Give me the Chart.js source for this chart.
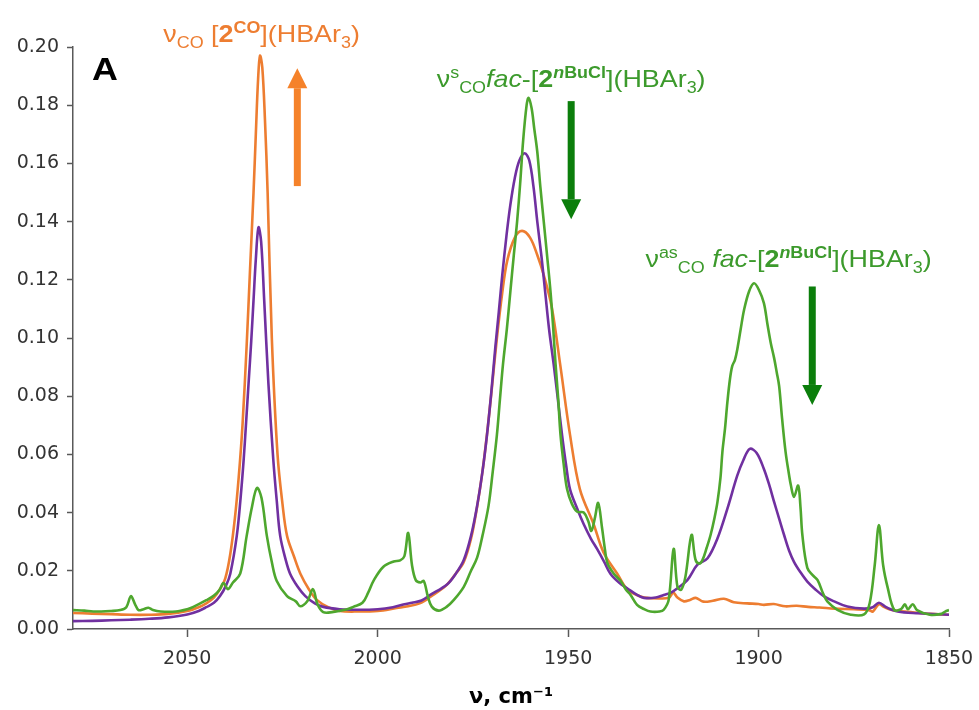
<!DOCTYPE html>
<html>
<head>
<meta charset="utf-8">
<script src="https://cdn.jsdelivr.net/npm/chart.js@4.4.0/dist/chart.umd.min.js"></script>
<style>
  body { margin: 0; background: #fff; }
</style>
</head>
<body>
<canvas id="myChart" width="979" height="710"></canvas>
<script>
// wavenumbers (cm-1) and absorbance
const waveCO = [2080, 2075, 2070, 2065, 2060, 2055, 2050, 2047, 2045, 2043, 2041.5, 2040, 2038.7, 2037.5, 2036.5, 2035.5, 2034.4, 2033.5, 2032.6, 2032, 2031.4, 2030.9, 2030.3, 2029.6, 2028.9, 2027.8, 2026.3, 2025, 2023.8, 2022, 2020.3, 2018, 2016, 2013, 2010, 2005, 2000, 1995, 1992, 1989, 1986, 1982, 1979.5, 1977.4, 1975.5, 1973.9, 1972.5, 1971.3, 1970, 1968.7, 1967.3, 1966, 1964, 1962.1, 1960, 1958.1, 1956.4, 1954.3, 1952.1, 1949.5, 1946.9, 1943.3, 1940.7, 1937.1, 1934.5, 1932.5, 1930, 1926, 1923.5, 1922.4, 1921.3, 1919.6, 1918, 1916.5, 1914.5, 1912, 1909.1, 1906.5, 1903, 1900, 1898.6, 1896, 1893, 1890, 1887, 1884, 1880, 1875, 1871, 1870, 1868.4, 1867, 1865, 1860, 1855, 1850]
const absCO = [0.0055, 0.0053, 0.0051, 0.0049, 0.0049, 0.0052, 0.0062, 0.0075, 0.0088, 0.0108, 0.0135, 0.0175, 0.0258, 0.038, 0.052, 0.070, 0.0976, 0.124, 0.150, 0.170, 0.189, 0.197, 0.193, 0.175, 0.150, 0.100, 0.060, 0.043, 0.032, 0.025, 0.019, 0.0135, 0.010, 0.0075, 0.0062, 0.006, 0.0062, 0.0072, 0.0078, 0.0088, 0.0112, 0.015, 0.019, 0.023, 0.031, 0.042, 0.054, 0.067, 0.083, 0.100, 0.1155, 0.1265, 0.1345, 0.1368, 0.1345, 0.1285, 0.1216, 0.1106, 0.091, 0.0667, 0.048, 0.036, 0.0263, 0.019, 0.0135, 0.012, 0.0108, 0.0105, 0.0108, 0.0125, 0.0108, 0.0095, 0.010, 0.0107, 0.0094, 0.0097, 0.0104, 0.0092, 0.0088, 0.0086, 0.0083, 0.0086, 0.0078, 0.0080, 0.0076, 0.0074, 0.0070, 0.0068, 0.0065, 0.006, 0.0085, 0.0075, 0.0065, 0.0058, 0.0052, 0.0049]

const waveMix = [2080, 2075, 2070, 2065, 2060, 2055, 2050, 2047, 2045, 2043, 2041.4, 2039.8, 2038.7, 2037, 2036, 2035.2, 2034.6, 2033.9, 2033.2, 2032.6, 2032, 2031.3, 2030.6, 2029.8, 2028.7, 2027.4, 2026.5, 2025.6, 2024.2, 2023, 2021, 2019, 2016.5, 2014.3, 2010, 2005, 2000, 1996, 1993, 1991, 1988.5, 1986.2, 1981.8, 1979.5, 1977.4, 1975.5, 1973.9, 1972.5, 1971.3, 1970.2, 1969.1, 1968.2, 1967.3, 1966.2, 1965.2, 1964, 1962.8, 1961.4, 1960.2, 1959.1, 1958.1, 1957, 1956, 1955, 1953.8, 1952.7, 1951.6, 1950.5, 1949.5, 1947.5, 1945.9, 1944, 1942.4, 1940.5, 1938.9, 1936.5, 1934.5, 1932, 1930.1, 1927, 1924.9, 1923, 1921.3, 1918.7, 1916.1, 1913.4, 1910.8, 1908.2, 1905.6, 1904, 1902.3, 1900.5, 1898.6, 1897.2, 1895.9, 1894.5, 1893.3, 1892, 1890.7, 1889, 1887.2, 1885, 1882.8, 1880, 1876.7, 1872.3, 1870, 1868.4, 1866.5, 1863.5, 1858, 1850]
const absMix = [0.0027, 0.0028, 0.003, 0.0032, 0.0035, 0.004, 0.005, 0.0062, 0.0075, 0.009, 0.0113, 0.015, 0.019, 0.032, 0.045, 0.058, 0.070, 0.0845, 0.099, 0.113, 0.127, 0.138, 0.133, 0.113, 0.0845, 0.058, 0.044, 0.032, 0.024, 0.019, 0.0145, 0.0113, 0.0088, 0.0076, 0.0068, 0.0066, 0.0068, 0.0075, 0.0085, 0.009, 0.0098, 0.0117, 0.0153, 0.019, 0.0237, 0.032, 0.0423, 0.054, 0.0667, 0.081, 0.097, 0.109, 0.1215, 0.135, 0.1455, 0.155, 0.161, 0.1635, 0.161, 0.152, 0.140, 0.128, 0.1155, 0.103, 0.091, 0.079, 0.0667, 0.056, 0.048, 0.041, 0.036, 0.031, 0.0275, 0.023, 0.019, 0.0158, 0.014, 0.0118, 0.0107, 0.0108, 0.0117, 0.0125, 0.014, 0.0168, 0.022, 0.0243, 0.0311, 0.0413, 0.0527, 0.058, 0.0619, 0.0605, 0.055, 0.0495, 0.0436, 0.0375, 0.0323, 0.027, 0.0231, 0.0195, 0.0163, 0.0135, 0.0112, 0.0094, 0.0077, 0.007, 0.0075, 0.009, 0.0075, 0.006, 0.0054, 0.0049]

const waveBuCl = [2080, 2077, 2074.7, 2070, 2067.6, 2066, 2064.8, 2063.7, 2062.8, 2061.5, 2060.2, 2059, 2057, 2053, 2050, 2048.4, 2045, 2043, 2041.5, 2040.5, 2039.3, 2038, 2036.1, 2034.4, 2033, 2031.7, 2030.5, 2029.1, 2027.8, 2026.5, 2023.8, 2021.5, 2020.3, 2018.5, 2017, 2015.8, 2014.3, 2012, 2008, 2006.4, 2004, 2002.5, 2001, 1998.5, 1995.8, 1994.1, 1993, 1992, 1991, 1990, 1988.8, 1987.9, 1986.8, 1985.8, 1984, 1982, 1980, 1977.4, 1975.5, 1973.9, 1972.5, 1970.9, 1969.8, 1968.7, 1967.9, 1967.1, 1966.1, 1965.2, 1964.3, 1963.4, 1962.6, 1961.8, 1960.9, 1960.4, 1959.6, 1958.9, 1958.1, 1957.3, 1956.4, 1955.5, 1954.6, 1953.9, 1953.3, 1952.6, 1952, 1951.2, 1950.3, 1949, 1947.6, 1945.9, 1944.7, 1943.9, 1943, 1942.1, 1941.1, 1940.3, 1939.7, 1938, 1936.2, 1934.8, 1933.6, 1931.9, 1930, 1928.4, 1926, 1924.9, 1923.6, 1922.3, 1921.3, 1920.3, 1919.2, 1917.6, 1916.6, 1915.7, 1914.8, 1913.6, 1912.6, 1911.6, 1910.8, 1910, 1909.5, 1908.8, 1908.2, 1907.5, 1906.9, 1906.2, 1905.6, 1904.7, 1903.8, 1902.5, 1901.2, 1899.9, 1898.6, 1897.7, 1896.8, 1895.9, 1895.2, 1894.6, 1893.8, 1892.9, 1892, 1891.5, 1890.7, 1889.6, 1889, 1888.5, 1887.2, 1885.8, 1884.5, 1883, 1881.9, 1879.3, 1875.8, 1872.3, 1870.8, 1869.5, 1868.4, 1867.3, 1866.1, 1864.4, 1862.6, 1861.6, 1860.8, 1859.5, 1858.4, 1855, 1852, 1851, 1850]
const absBuCl = [0.0065, 0.0063, 0.006, 0.0062, 0.0065, 0.0075, 0.0113, 0.0085, 0.0065, 0.0068, 0.0073, 0.0065, 0.006, 0.006, 0.0068, 0.0076, 0.0099, 0.0115, 0.0135, 0.0158, 0.0137, 0.016, 0.019, 0.032, 0.042, 0.0485, 0.045, 0.032, 0.023, 0.0165, 0.0113, 0.0095, 0.0078, 0.0095, 0.0137, 0.0085, 0.0058, 0.0058, 0.0068, 0.0076, 0.009, 0.0125, 0.0168, 0.0214, 0.0232, 0.0236, 0.025, 0.033, 0.022, 0.0168, 0.016, 0.0165, 0.011, 0.0077, 0.0063, 0.0075, 0.010, 0.0145, 0.020, 0.0245, 0.032, 0.0423, 0.054, 0.0667, 0.079, 0.091, 0.103, 0.1155, 0.128, 0.140, 0.153, 0.168, 0.180, 0.1825, 0.179, 0.172, 0.164, 0.152, 0.140, 0.128, 0.1155, 0.103, 0.091, 0.079, 0.0667, 0.057, 0.0482, 0.043, 0.0403, 0.040, 0.037, 0.0337, 0.038, 0.0433, 0.0348, 0.027, 0.0227, 0.019, 0.0165, 0.0135, 0.0117, 0.0083, 0.0068, 0.006, 0.006, 0.0066, 0.010, 0.0275, 0.0145, 0.0135, 0.018, 0.0323, 0.024, 0.0225, 0.0235, 0.028, 0.0323, 0.038, 0.0436, 0.052, 0.0608, 0.069, 0.0778, 0.086, 0.0904, 0.0925, 0.096, 0.103, 0.1097, 0.116, 0.1188, 0.1165, 0.112, 0.105, 0.0983, 0.093, 0.088, 0.0835, 0.072, 0.0608, 0.053, 0.0493, 0.0454, 0.0493, 0.042, 0.0323, 0.021, 0.0185, 0.0168, 0.012, 0.0094, 0.0066, 0.0049, 0.005, 0.009, 0.022, 0.0357, 0.022, 0.0142, 0.0066, 0.0068, 0.0085, 0.0068, 0.0085, 0.0065, 0.0049, 0.0052, 0.006, 0.0065]

const xTicks = [2050, 2000, 1950, 1900, 1850]
const yTicks = [0, 0.02, 0.04, 0.06, 0.08, 0.1, 0.12, 0.14, 0.16, 0.18, 0.2]

const ORANGE = "#ED7D31"
const PURPLE = "#7030A0"
const GREEN = "#4EA72E"
const GREEN_TXT = "#3C9A2C"
const GREEN_ARROW = "#0B7E0B"
const AXIS = "#595959"

const toPoints = (xs, ys) => xs.map((x, i) => ({ x: x, y: ys[i] }))

// annotation arrows, in data units
const arrows = [
  { x: 2021.1, from: 0.1522, to: 0.1927, color: "#F5822A" },
  { x: 1949.2, from: 0.1814, to: 0.1408, color: GREEN_ARROW },
  { x: 1885.9, from: 0.1177, to: 0.077, color: GREEN_ARROW },
]

const SUB = 6, SUP = -9
const labels = [
  {
    x: 2056.3, y: 0.2018, color: ORANGE, segs: [
      { t: "ν" }, { t: "CO", s: 16, dy: SUB }, { t: " [" }, { t: "2", b: 1 },
      { t: "CO", s: 16, b: 1, dy: SUP }, { t: "](HBAr" }, { t: "3", s: 16, dy: SUB }, { t: ")" },
    ],
  },
  {
    x: 1984.5, y: 0.1863, color: GREEN_TXT, segs: [
      { t: "ν" }, { t: "s", s: 16, dy: SUP }, { t: "CO", s: 16, dy: SUB }, { t: "fac", i: 1 }, { t: "-[" },
      { t: "2", b: 1 }, { t: "n", s: 16, b: 1, i: 1, dy: SUP }, { t: "BuCl", s: 16, b: 1, dy: SUP },
      { t: "](HBAr" }, { t: "3", s: 16, dy: SUB }, { t: ")" },
    ],
  },
  {
    x: 1929.7, y: 0.1244, color: GREEN_TXT, segs: [
      { t: "ν" }, { t: "as", s: 16, dy: SUP }, { t: "CO", s: 16, dy: SUB }, { t: " " }, { t: "fac", i: 1 }, { t: "-[" },
      { t: "2", b: 1 }, { t: "n", s: 16, b: 1, i: 1, dy: SUP }, { t: "BuCl", s: 16, b: 1, dy: SUP },
      { t: "](HBAr" }, { t: "3", s: 16, dy: SUB }, { t: ")" },
    ],
  },
  { x: 2075, y: 0.1887, color: "#000", segs: [{ t: "A", s: 32, b: 1 }] },
]

function drawRich(ctx, x, y, segs, color) {
  ctx.save()
  ctx.translate(x, y)
  ctx.scale(1.12, 1)
  ctx.fillStyle = color
  ctx.textBaseline = "alphabetic"
  let cx = 0
  segs.forEach((s) => {
    ctx.font = (s.i ? "italic " : "") + (s.b ? "bold " : "") + (s.s || 24) + 'px "Liberation Sans", Arial, sans-serif'
    ctx.fillText(s.t, cx, s.dy || 0)
    cx += ctx.measureText(s.t).width
  })
  ctx.restore()
}

const annotations = {
  id: "annotations",
  afterDraw(chart) {
    const { ctx, scales } = chart
    const xs = scales.x, ys = scales.y
    arrows.forEach((a) => {
      const x = xs.getPixelForValue(a.x)
      const y0 = ys.getPixelForValue(a.from)
      const y1 = ys.getPixelForValue(a.to)
      const dir = Math.sign(y1 - y0)
      const head = 20
      ctx.save()
      ctx.fillStyle = a.color
      ctx.fillRect(x - 3.5, Math.min(y0, y1 - dir * head), 7, Math.abs(y1 - dir * head - y0))
      ctx.beginPath()
      ctx.moveTo(x, y1)
      ctx.lineTo(x - 10, y1 - dir * head)
      ctx.lineTo(x + 10, y1 - dir * head)
      ctx.closePath()
      ctx.fill()
      ctx.restore()
    })
    labels.forEach((l) => {
      drawRich(ctx, xs.getPixelForValue(l.x), ys.getPixelForValue(l.y), l.segs, l.color)
    })
  },
}

const ctx = document.getElementById("myChart")
const myChart = new Chart(ctx, {
  type: "line",
  data: {
    datasets: [
      { label: "fac-[2nBuCl](HBAr3)", data: toPoints(waveBuCl, absBuCl), borderColor: GREEN },
      { label: "mixture", data: toPoints(waveMix, absMix), borderColor: PURPLE },
      { label: "[2CO](HBAr3)", data: toPoints(waveCO, absCO), borderColor: ORANGE },
    ],
  },
  options: {
    responsive: false,
    animation: false,
    events: [],
    parsing: false,
    elements: {
      point: { radius: 0 },
      line: { borderWidth: 2.6, tension: 0.35 },
    },
    layout: { padding: { top: 47, right: 30, left: 0, bottom: 0 } },
    scales: {
      x: {
        type: "linear",
        reverse: true,
        min: 1850,
        max: 2080,
        afterBuildTicks: (scale) => { scale.ticks = xTicks.map((v) => ({ value: v })) },
        afterFit: (scale) => {
          scale.height = 81
          // the layout padding already leaves room for the end labels
          scale.paddingLeft = 0
          scale.paddingRight = 0
        },
        ticks: {
          color: "#333",
          font: { family: "DejaVu Sans", size: 19 },
          padding: 11,
          maxRotation: 0,
          callback: (v) => v,
        },
        grid: { drawOnChartArea: false, tickLength: 8, color: AXIS, tickWidth: 1.5 },
        border: { color: AXIS, width: 1.5 },
        title: {
          display: true,
          text: "ν, cm⁻¹",
          color: "#000",
          font: { family: "DejaVu Sans", size: 21, weight: "bold" },
          padding: { top: 0, bottom: 0 },
        },
      },
      y: {
        min: 0,
        max: 0.2,
        afterBuildTicks: (scale) => { scale.ticks = yTicks.map((v) => ({ value: v })) },
        afterFit: (scale) => { scale.width = 73 },
        ticks: {
          color: "#333",
          font: { family: "DejaVu Sans", size: 19 },
          padding: 8,
          callback: (v) => v.toFixed(2),
        },
        grid: { drawOnChartArea: false, tickLength: 6, color: AXIS, tickWidth: 1.5 },
        border: { color: AXIS, width: 1.5 },
      },
    },
    plugins: {
      legend: { display: false },
      tooltip: { enabled: false },
    },
  },
  plugins: [annotations],
})
</script>
</body>
</html>
